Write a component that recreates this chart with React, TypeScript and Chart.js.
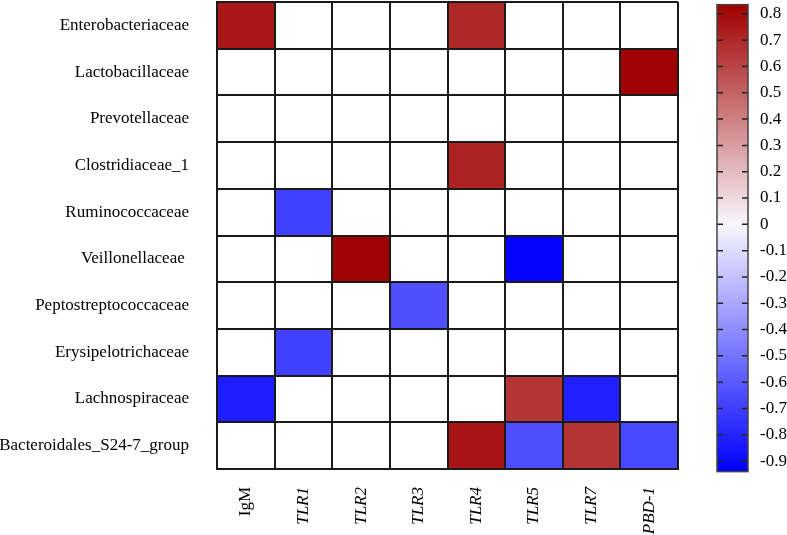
import { useEffect, useRef } from 'react';
import { Chart, registerables } from 'chart.js';

Chart.register(...registerables);

const rows = [
  'Enterobacteriaceae',
  'Lactobacillaceae',
  'Prevotellaceae',
  'Clostridiaceae_1',
  'Ruminococcaceae',
  'Veillonellaceae ',
  'Peptostreptococcaceae',
  'Erysipelotrichaceae',
  'Lachnospiraceae',
  'Bacteroidales_S24-7_group',
];
const columns = ['IgM', 'TLR1', 'TLR2', 'TLR3', 'TLR4', 'TLR5', 'TLR7', 'PBD-1'];

// correlation values, one array per row (columns order above); 0 = not shown (white)
const enterobacteriaceae = [0.76, 0, 0, 0, 0.7, 0, 0, 0];
const lactobacillaceae = [0, 0, 0, 0, 0, 0, 0, 0.83];
const prevotellaceae = [0, 0, 0, 0, 0, 0, 0, 0];
const clostridiaceae1 = [0, 0, 0, 0, 0.72, 0, 0, 0];
const ruminococcaceae = [0, -0.7, 0, 0, 0, 0, 0, 0];
const veillonellaceae = [0, 0, 0.83, 0, 0, -0.93, 0, 0];
const peptostreptococcaceae = [0, 0, 0, -0.65, 0, 0, 0, 0];
const erysipelotrichaceae = [0, -0.7, 0, 0, 0, 0, 0, 0];
const lachnospiraceae = [-0.83, 0, 0, 0, 0, 0.66, -0.82, 0];
const bacteroidales = [0, 0, 0, 0, 0.77, -0.65, 0.66, -0.67];

const rowValues = [
  enterobacteriaceae,
  lactobacillaceae,
  prevotellaceae,
  clostridiaceae1,
  ruminococcaceae,
  veillonellaceae,
  peptostreptococcaceae,
  erysipelotrichaceae,
  lachnospiraceae,
  bacteroidales,
];

const colorbarTicks = [0.8, 0.7, 0.6, 0.5, 0.4, 0.3, 0.2, 0.1, 0, -0.1, -0.2, -0.3, -0.4, -0.5, -0.6, -0.7, -0.8, -0.9];
const colorMin = -0.94;
const colorMax = 0.835;

const FONT = "'Liberation Serif', 'Times New Roman', serif";

function colorFor(v: number): string {
  if (v >= 0) {
    const t = Math.min(v / colorMax, 1);
    const r = Math.round(255 + (160 - 255) * t);
    const g = Math.round(255 * (1 - t));
    return `rgb(${r},${g},${g})`;
  }
  const t = Math.min(v / colorMin, 1);
  const c = Math.round(255 * (1 - t));
  return `rgb(${c},${c},255)`;
}

const colorbarPlugin = {
  id: 'colorbar',
  afterDraw(chart: any) {
    const s = chart.scales.cb;
    if (!s) return;
    const ctx = chart.ctx;
    const x0 = s.left + 39;
    const w = 31;
    const yTop = s.getPixelForValue(colorMax);
    const yBot = s.getPixelForValue(colorMin);
    const yZero = s.getPixelForValue(0);
    const grad = ctx.createLinearGradient(0, yTop, 0, yBot);
    grad.addColorStop(0, colorFor(colorMax));
    grad.addColorStop((yZero - yTop) / (yBot - yTop), 'rgb(248,246,252)');
    grad.addColorStop(1, colorFor(colorMin));
    ctx.save();
    ctx.fillStyle = grad;
    ctx.fillRect(x0, yTop, w, yBot - yTop);
    ctx.strokeStyle = '#222';
    ctx.lineWidth = 1.5;
    for (const v of colorbarTicks) {
      const y = s.getPixelForValue(v);
      ctx.beginPath();
      ctx.moveTo(x0, y);
      ctx.lineTo(x0 + 6, y);
      ctx.moveTo(x0 + w - 6, y);
      ctx.lineTo(x0 + w, y);
      ctx.stroke();
    }
    ctx.strokeStyle = '#444';
    ctx.lineWidth = 1.5;
    ctx.strokeRect(x0, yTop, w, yBot - yTop);
    ctx.restore();
  },
};

export default function App() {
  const ref = useRef<HTMLCanvasElement>(null);

  useEffect(() => {
    if (!ref.current) return;
    const n = rows.length;
    const datasets = rows
      .map((name, i) => ({
        label: name,
        data: columns.map(() => 1),
        backgroundColor: rowValues[i].map(colorFor),
        borderWidth: 0,
        barPercentage: 1,
        categoryPercentage: 1,
        stack: 'grid',
      }))
      .reverse();

    const chart = new Chart(ref.current, {
      type: 'bar',
      data: { labels: columns, datasets },
      plugins: [colorbarPlugin],
      options: {
        animation: false,
        responsive: false,
        layout: { padding: { top: 2, left: 0, right: 0, bottom: 0 } },
        plugins: { legend: { display: false }, tooltip: { enabled: false } },
        scales: {
          x: {
            type: 'category',
            stacked: true,
            offset: true,
            grid: { offset: true, color: '#1a1a1a', lineWidth: 2, drawTicks: false, z: 1 },
            border: { display: true, color: '#1a1a1a', width: 2, z: 1 },
            ticks: {
              minRotation: 90,
              maxRotation: 90,
              padding: 18,
              color: '#000',
              autoSkip: false,
              font: (ctx: any) => ({ family: FONT, size: 17, style: ctx.index === 0 ? 'normal' : 'italic' }),
            },
            afterFit: (s: any) => {
              s.height = 66;
              s.paddingLeft = 0;
              s.paddingRight = 0;
            },
          },
          y: {
            type: 'linear',
            stacked: true,
            min: 0,
            max: n,
            afterBuildTicks: (s: any) => {
              s.ticks = rows.map((_, i) => ({ value: i + 0.5 }));
            },
            grid: { offset: true, color: '#1a1a1a', lineWidth: 2, drawTicks: false, z: 1 },
            border: { display: true, color: '#1a1a1a', width: 2, z: 1 },
            ticks: {
              autoSkip: false,
              padding: 28,
              color: '#000',
              font: { family: FONT, size: 17 },
              callback: (v: any) => rows[n - 1 - Math.floor(Number(v))],
            },
            afterFit: (s: any) => {
              s.width = 217;
              s.paddingTop = 0;
              s.paddingBottom = 0;
            },
          },
          cb: {
            type: 'linear',
            position: 'right',
            min: -0.93,
            max: 0.845,
            afterBuildTicks: (s: any) => {
              s.ticks = colorbarTicks.map((v) => ({ value: v }));
            },
            grid: { display: false, drawTicks: false },
            border: { display: false },
            ticks: {
              autoSkip: false,
              padding: 82,
              color: '#000',
              font: { family: FONT, size: 17 },
              callback: (v: any) => {
                const x = Number(v);
                return Math.abs(x) < 1e-9 ? '0' : x.toFixed(1);
              },
            },
            afterFit: (s: any) => {
              s.width = 109;
              s.paddingTop = 0;
              s.paddingBottom = 0;
            },
          },
        },
      } as any,
    });
    return () => chart.destroy();
  }, []);

  return (
    <div style={{ position: 'absolute', left: 0, top: 0, width: 787, height: 535 }}>
      <canvas ref={ref} width={787} height={535} style={{ display: 'block' }} />
    </div>
  );
}
